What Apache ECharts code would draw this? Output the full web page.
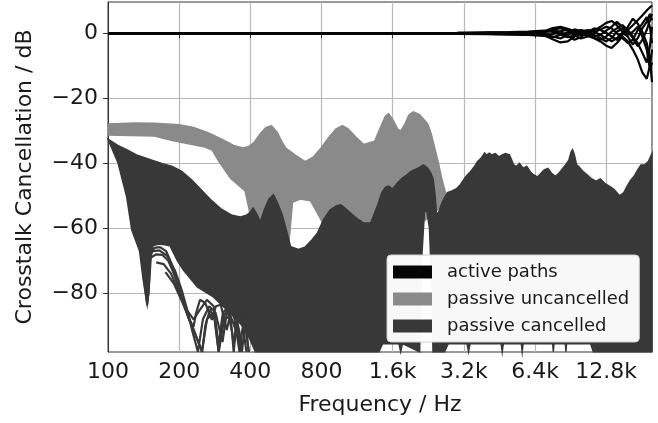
<!DOCTYPE html>
<html><head><meta charset="utf-8">
<script src="https://cdn.jsdelivr.net/npm/echarts@6/dist/echarts.min.js"></script>
<style>html,body{margin:0;padding:0;background:#fff}#c{width:658px;height:423px}</style>
</head><body><div id="c"></div>
<script>
// ---- axis ticks ----
const X_TICKS = [100, 200, 400, 800, 1600, 3200, 6400, 12800];
const X_TICK_LABELS = ['100', '200', '400', '800', '1.6k', '3.2k', '6.4k', '12.8k'];
const Y_TICKS = [-80, -60, -40, -20, 0];

// ---- active paths (black) ----
const ACTIVE_FREQ = [100, 1000, 2000, 3000, 4000, 5000, 6000, 7000, 7600, 8200, 8800, 9400, 10000, 10700, 11400, 12100, 12800, 13500, 14200, 15000, 15800, 16600, 17400, 18200, 19000, 19600, 20000];
const ACTIVE_1 = [0, 0, 0, 0.1, 0.2, 0.3, 0.4, 0.6, 1.6, 2.0, 1.4, 0.3, -0.5, 0.2, 0.8, 2.0, 3.2, 3.8, 2.5, 0.5, 1.0, 2.5, 4.0, 5.5, 7.0, 8.0, 8.5];
const ACTIVE_2 = [0, 0, 0, -0.1, -0.2, -0.3, -0.4, -0.6, -1.8, -2.8, -2.5, -1.0, -0.2, -0.8, -1.5, -2.5, -3.8, -4.5, -3.0, -1.0, -2.5, -5.0, -8.0, -12, -14, -10, -5];
const ACTIVE_3 = [0, 0, 0, 0.05, 0.1, 0.2, 0.3, 0.4, 0.8, 0.5, -0.8, -2.0, -1.2, 0.5, 1.5, 1.0, 0.2, -1.0, -2.0, -0.5, 2.0, 4.5, 3.0, 0.5, -3.0, -8.0, -15];
const ACTIVE_4 = [0, 0, 0, -0.05, -0.1, -0.2, -0.2, -0.4, -0.3, 0.6, 1.2, 0.8, 0.2, -0.5, -1.5, -2.0, -1.0, 0.5, 1.5, 2.5, 1.0, -1.0, -3.0, -6.0, -9.0, -4.0, 2.0];
const ACTIVE_5 = [0, 0, 0, 0, 0.1, 0.1, 0.2, 0.3, 1.0, 1.6, 0.8, -0.6, -1.6, -1.0, 0.2, 1.2, 2.0, 1.5, 0, -1.5, -3.0, -2.0, 1.0, 3.0, 5.0, 2.0, -3.0];
const ACTIVE_6 = [0, 0, 0, 0, -0.1, -0.1, -0.2, -0.3, -1.0, -1.6, -0.5, 0.6, 1.0, 0.6, -0.5, -1.5, -2.5, -1.5, 0.5, 1.5, 0.5, -1.5, -4.0, -2.0, 1.0, 4.0, 6.0];
const ACTIVE_7 = [0, 0, 0.05, 0.15, 0.3, 0.4, 0.5, 0.8, 0.4, -0.4, -1.2, -0.6, 0.4, 1.0, 0.5, -0.5, -1.5, -2.5, -1.5, 0.2, -1.0, -3.5, -1.5, 1.5, 3.5, 6.0, 4.0];
const ACTIVE_8 = [0, 0, -0.05, -0.15, -0.3, -0.4, -0.5, -0.8, -1.2, -0.5, 0.3, 1.2, 0.6, -0.3, -1.0, -0.5, 0.8, 2.0, 3.5, 2.0, -0.5, 0.5, 2.0, -1.0, -5.0, -11.0, -9.0];

// ---- passive uncancelled (grey) envelope ----
const GRAY_UPPER = [[100,-27.9],[130,-27.6],[157,-27.7],[200,-28.1],[230,-29],[263,-30.5],[303,-32.6],[340,-34.5],[372,-35.3],[395,-34.8],[413,-33.7],[440,-31],[465,-29],[491,-28.4],[520,-30.5],[545,-33.5],[565,-35.3],[620,-37.5],[682,-39.5],[740,-38],[797,-35.3],[860,-32],[920,-29.5],[981,-28.4],[1040,-29.5],[1120,-32],[1208,-34.2],[1342,-33.2],[1420,-29],[1490,-25.5],[1537,-24.7],[1600,-26.5],[1680,-29.5],[1730,-30],[1800,-28],[1880,-25],[1958,-24.2],[2080,-25],[2250,-27.9],[2330,-31],[2410,-35.3],[2500,-40],[2581,-44.7],[2675,-49],[2700,-52]];
const GRAY_LOWER = [[100,-31.3],[157,-31.6],[187,-33],[257,-35],[276,-35.9],[292,-39],[305,-41],[329,-44.5],[363,-47.3],[380,-48.5],[400,-56],[450,-62],[580,-66],[603,-52],[650,-51],[718,-51.5],[778,-56],[832,-60],[1200,-62],[2000,-60],[2700,-52]];

// ---- passive cancelled (dark) envelope ----
const DARK_UPPER = [[100,-32.6],[110,-34.5],[120,-35.8],[132,-37.4],[150,-38.8],[170,-40.1],[187,-41],[205,-42.5],[225,-45],[246,-47.9],[270,-51],[303,-54.2],[335,-56],[363,-56.5],[385,-56],[400,-55],[411,-53.8],[425,-55.5],[441,-58],[460,-54],[480,-51],[501,-49.7],[520,-52],[546,-55.9],[570,-61],[592,-65.7],[640,-66.5],[684,-65.7],[730,-63.5],[770,-61.4],[820,-57],[870,-54.4],[920,-53.2],[962,-52.8],[981,-53.1],[1050,-55],[1130,-57],[1208,-58.4],[1292,-58.4],[1380,-53],[1440,-49],[1490,-47.4],[1540,-47],[1596,-47.9],[1680,-46],[1760,-44.5],[1828,-43.7],[1900,-42.6],[1958,-42.1],[2050,-41.5],[2165,-40.5],[2250,-41.5],[2320,-43],[2372,-44.7],[2420,-50],[2451,-55.3],[2497,-55.3],[2560,-53],[2628,-51.1],[2728,-49],[2850,-48.5],[2970,-47.9],[3100,-46.5],[3200,-45],[3300,-43.7],[3420,-42.5],[3550,-41],[3650,-39.5],[3780,-38.5],[3920,-36.8],[4000,-37.5],[4100,-36.9],[4200,-37.4],[4350,-37],[4500,-38],[4650,-37.4],[4800,-37],[4990,-37.4],[5100,-39],[5200,-40.5],[5340,-41],[5500,-40],[5700,-41.5],[5910,-41],[6100,-42.5],[6300,-43.5],[6550,-44.2],[6800,-43],[7000,-42],[7260,-41.6],[7500,-43],[7800,-44],[8050,-43.2],[8300,-42],[8620,-40.5],[8900,-39],[9100,-36.5],[9230,-35.8],[9400,-37.5],[9600,-40.5],[9800,-41],[10200,-42.5],[10600,-43.5],[11060,-44.7],[11600,-45.5],[12100,-44.8],[12660,-46.3],[13200,-47],[13800,-48],[14580,-50],[15200,-49],[15700,-47],[16220,-45.3],[16800,-44],[17400,-42],[17960,-40.5],[18600,-40.5],[19300,-39.5],[19700,-38],[20000,-37]];
const DARK_LOWER = [[100,-32.6],[110.3,-39.9],[120,-50.4],[126,-60.5],[136,-67],[141,-76],[146.5,-83.6],[149,-80],[151,-70],[155,-65.3],[166,-64.8],[183,-65.4],[196,-69.8],[208,-72.8],[238.5,-78],[279,-81.1],[329,-86.1],[373.6,-90.4],[400,-94.4],[420,-98],[1400,-98],[1450,-95.5],[1700,-95.5],[1730,-98],[1760,-95.5],[2080,-98],[2120,-70],[2180,-55],[2230,-54.5],[2290,-60],[2340,-78],[2370,-98],[2650,-98],[2750,-95.5],[3300,-95.5],[3350,-98],[3400,-95.5],[4600,-95.5],[4650,-98],[4700,-95.5],[5600,-95.5],[5650,-98],[5700,-95.5],[7600,-95.5],[7650,-98],[7700,-95.5],[8600,-95.5],[8650,-98],[8700,-95.5],[11000,-95.5],[11300,-98],[20000,-98]];

// individual passive cancelled curves visible below the mass at low frequency
const LOBE_1 = [[140,-72],[146.5,-83.6],[149.5,-76],[152,-68],[157,-66],[166,-65.8],[176,-67],[186,-71],[197,-77],[210,-84],[222,-88.5],[230,-90.3],[236,-86],[245,-82],[258,-83],[275,-88.2],[286,-84],[300,-83.5],[318,-91.3],[330,-86],[345,-86],[360,-92],[369,-98]];
const LOBE_2 = [[152,-69],[160,-68],[170,-68.2],[180,-70],[190,-74],[205,-81],[220,-88],[238,-94],[250,-98],[258,-90],[270,-85],[283,-88],[294,-98],[304,-88],[320,-85],[335,-92],[340,-98],[350,-89],[368,-98]];
const LOBE_3 = [[160,-70.5],[172,-71],[185,-74],[200,-80],[215,-85],[230,-88],[245,-85],[262,-82],[280,-84],[294,-96],[306,-86],[325,-84],[340,-96],[352,-87],[375,-86],[394,-98]];
const LOBE_4 = [[175,-73.5],[190,-77],[210,-84],[230,-91],[249.8,-98],[262,-88],[280,-86],[293.8,-98],[310,-88],[330,-87],[350,-92],[368.7,-98],[380,-89],[394,-98]];
const LOBE_5 = [[155,-67],[165,-66.8],[178,-68.5],[192,-73],[205,-79],[218,-86],[228,-92],[240,-98],[252,-88],[268,-84],[285,-86],[305,-95],[318,-86],[338,-85],[360,-98],[372,-90],[385,-98]];

const C_ACTIVE = '#050505', C_UNC = '#8a8a8a', C_CAN = '#383838';
const FONT = 'DejaVu Sans';

function band(upper, lower, color) {
  return function (params, api) {
    const pts = upper.map(p => api.coord(p)).concat(lower.slice().reverse().map(p => api.coord(p)));
    return { type: 'polygon', shape: { points: pts }, style: { fill: color, stroke: color, lineWidth: 1.5 } };
  };
}
function pairs(xs, ys) { return xs.map((x, i) => [x, ys[i]]); }
function line(name, data, color, w, z) {
  return { name, type: 'line', data, showSymbol: false, symbol: 'none', z, animation: false,
    lineStyle: { color, width: w }, itemStyle: { color }, silent: true };
}

const series = [
  { name: 'passive uncancelled', type: 'custom', z: 2, data: [[1000, -30]], itemStyle: { color: C_UNC },
    renderItem: band(GRAY_UPPER, GRAY_LOWER, C_UNC), animation: false, silent: true },
  { name: 'passive cancelled', type: 'custom', z: 3, data: [[1000, -50]], itemStyle: { color: C_CAN },
    renderItem: band(DARK_UPPER, DARK_LOWER, C_CAN), animation: false, silent: true },
  line('lobe1', LOBE_1, C_CAN, 2.2, 3),
  line('lobe2', LOBE_2, C_CAN, 2.2, 3),
  line('lobe3', LOBE_3, C_CAN, 2.2, 3),
  line('lobe4', LOBE_4, C_CAN, 2.2, 3),
  line('lobe5', LOBE_5, C_CAN, 2.2, 3),
  line('active paths', pairs(ACTIVE_FREQ, ACTIVE_1), C_ACTIVE, 2.2, 4),
  line('active paths', pairs(ACTIVE_FREQ, ACTIVE_2), C_ACTIVE, 2.2, 4),
  line('active paths', pairs(ACTIVE_FREQ, ACTIVE_3), C_ACTIVE, 2.2, 4),
  line('active paths', pairs(ACTIVE_FREQ, ACTIVE_4), C_ACTIVE, 2.2, 4),
  line('active paths', pairs(ACTIVE_FREQ, ACTIVE_5), C_ACTIVE, 2.2, 4),
  line('active paths', pairs(ACTIVE_FREQ, ACTIVE_6), C_ACTIVE, 2.2, 4),
  line('active paths', pairs(ACTIVE_FREQ, ACTIVE_7), C_ACTIVE, 2.2, 4),
  line('active paths', pairs(ACTIVE_FREQ, ACTIVE_8), C_ACTIVE, 2.2, 4)
];

const chart = echarts.init(document.getElementById('c'), null, { renderer: 'canvas' });
chart.setOption({
  animation: false,
  backgroundColor: '#fff',
  textStyle: { fontFamily: FONT },
  grid: { left: 108, right: 6, top: 2, bottom: 71, show: true, borderColor: '#333', borderWidth: 1, backgroundColor: 'transparent' },
  legend: {
    data: ['active paths', 'passive uncancelled', 'passive cancelled'],
    orient: 'vertical', left: 387, top: 255,
    icon: 'rect', itemWidth: 39, itemHeight: 13, itemGap: 9,
    padding: [8, 10, 7, 6],
    backgroundColor: 'rgba(255,255,255,0.97)', borderColor: '#d0d0d0', borderWidth: 1, borderRadius: 4,
    textStyle: { fontFamily: FONT, fontSize: 18, color: '#1a1a1a', padding: [0, 0, 0, 10] },
    selectedMode: false, z: 10
  },
  xAxis: {
    type: 'log', logBase: 10, min: 100, max: 20000,
    name: 'Frequency / Hz', nameLocation: 'middle', nameGap: 42,
    nameTextStyle: { fontFamily: FONT, fontSize: 22, color: '#1a1a1a' },
    axisLine: { show: true, lineStyle: { color: '#333', width: 1 } },
    axisTick: { show: true, customValues: X_TICKS, length: 5, lineStyle: { color: '#333' } },
    axisLabel: { customValues: X_TICKS, margin: 9, fontFamily: FONT, fontSize: 22, color: '#1a1a1a',
      formatter: v => { const i = X_TICKS.findIndex(t => Math.abs(t - v) < 1e-6 * t); return i >= 0 ? X_TICK_LABELS[i] : ''; } },
    splitLine: { show: true, lineStyle: { color: '#b8b8b8', width: 1.2 } },
    minorTick: { show: false }, minorSplitLine: { show: false }
  },
  yAxis: {
    type: 'value', min: -98.06, max: 9.63,
    name: 'Crosstalk Cancellation / dB', nameLocation: 'middle', nameGap: 72, nameRotate: 90,
    nameTextStyle: { fontFamily: FONT, fontSize: 22, color: '#1a1a1a' },
    axisLine: { show: true, lineStyle: { color: '#333', width: 1 } },
    axisTick: { show: true, customValues: Y_TICKS, length: 5, lineStyle: { color: '#333' } },
    axisLabel: { customValues: Y_TICKS, margin: 10, fontFamily: FONT, fontSize: 22, color: '#1a1a1a',
      formatter: v => (v < 0 ? '\u2212' + Math.abs(v) : String(v)) },
    splitLine: { show: true, lineStyle: { color: '#b8b8b8', width: 1.2 } }
  },
  series
});
</script></body></html>
